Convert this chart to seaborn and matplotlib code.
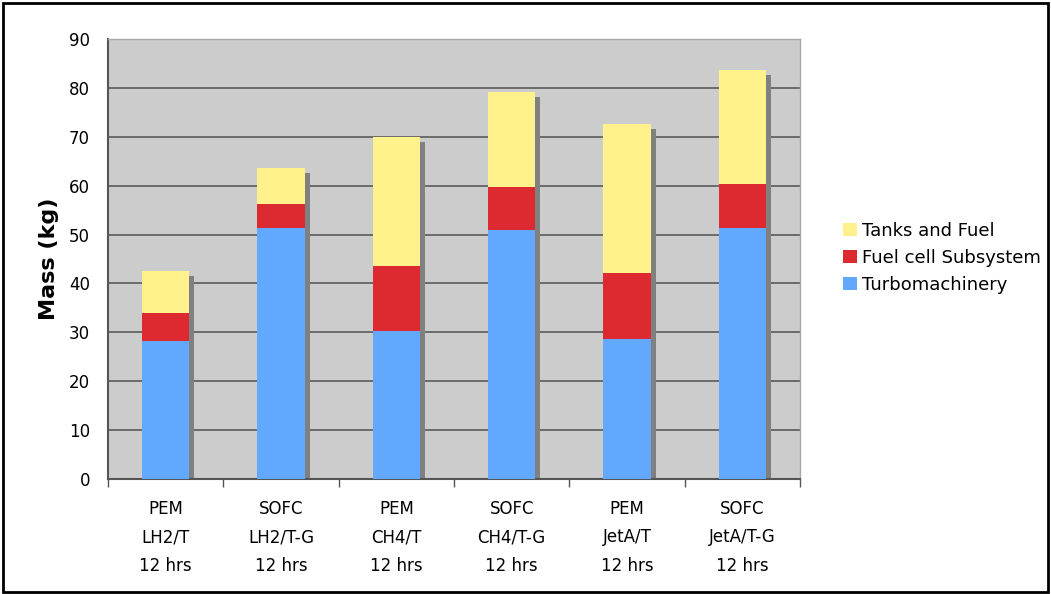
import pandas as pd
import matplotlib.pyplot as plt
import matplotlib.patches as mpatches
import matplotlib.patheffects as pe
import seaborn as sns
import numpy as np

# chart values (kg)
configs = ["PEM\nLH2/T\n12 hrs", "SOFC\nLH2/T-G\n12 hrs", "PEM\nCH4/T\n12 hrs",
           "SOFC\nCH4/T-G\n12 hrs", "PEM\nJetA/T\n12 hrs", "SOFC\nJetA/T-G\n12 hrs"]
turbomachinery = [28.2, 51.3, 30.3, 50.9, 28.6, 51.3]
fuel_cell = [5.8, 4.9, 13.3, 8.8, 13.5, 9.0]
tanks_fuel = [8.5, 7.4, 26.3, 19.4, 30.5, 23.3]

series_names = ["Tanks and Fuel", "Fuel cell Subsystem", "Turbomachinery"]
colors = {"Tanks and Fuel": "#FFF28C", "Fuel cell Subsystem": "#DC2A30",
          "Turbomachinery": "#62A8FF"}

df = pd.DataFrame({"config": configs, "turbo": turbomachinery,
                   "fc": fuel_cell, "tanks": tanks_fuel})
df["lvl1"] = df["turbo"]
df["lvl2"] = df["turbo"] + df["fc"]
df["lvl3"] = df["lvl2"] + df["tanks"]

sns.set_style("white")
plt.rcParams["font.family"] = ["DejaVu Sans"]
plt.rcParams["text.color"] = "black"
plt.rcParams["axes.labelcolor"] = "black"
plt.rcParams["xtick.labelcolor"] = "black"
plt.rcParams["ytick.labelcolor"] = "black"

fig = plt.figure(figsize=(10.51, 5.94), dpi=100)
ax = fig.add_axes([108 / 1051, 115 / 594, 692 / 1051, 440 / 594])
ax.set_facecolor("#CCCCCC")

width = 0.41
# drop shadow behind the full stack
sns.barplot(data=df, x="config", y="lvl3", color="#808080", width=width,
            ax=ax, saturation=1, zorder=2)
for p in ax.patches:
    p.set_facecolor("none")
    p.set_edgecolor("none")
    p.set_path_effects([pe.SimplePatchShadow(offset=(3.6, -3.2),
                                             shadow_rgbFace="#808080", alpha=1.0)])

for col, name in [("lvl3", "Tanks and Fuel"), ("lvl2", "Fuel cell Subsystem"),
                  ("lvl1", "Turbomachinery")]:
    sns.barplot(data=df, x="config", y=col, color=colors[name], width=width,
                ax=ax, saturation=1, zorder=3, linewidth=0)

ax.set_ylim(0, 90)
ax.set_xlim(-0.5, len(configs) - 0.5)
ax.set_yticks(np.arange(0, 91, 10))
ax.yaxis.grid(True, color="#5a5a5a", linewidth=1.2, zorder=1)
ax.set_axisbelow(True)

ax.set_xticks(np.arange(len(configs)))
ax.set_xticklabels(configs, fontsize=12, linespacing=1.75)
ax.set_xticks(np.arange(-0.5, len(configs), 1), minor=True)
ax.tick_params(axis="x", which="major", length=0, pad=15)
ax.tick_params(axis="x", which="minor", length=6, width=1, color="#555555", direction="out")
ax.tick_params(axis="y", length=6, width=1, color="#555555", direction="out",
               labelsize=12, pad=7)
ax.tick_params(axis="x", which="both", bottom=True)

ax.set_xlabel("")
ax.set_ylabel("Mass (kg)", fontsize=16, fontweight="bold", labelpad=7)

for side in ["left", "bottom"]:
    ax.spines[side].set_color("#555555")
    ax.spines[side].set_linewidth(1.5)
for side in ["top", "right"]:
    ax.spines[side].set_color("#aaaaaa")
    ax.spines[side].set_linewidth(1)

handles = [mpatches.Patch(facecolor=colors[n], edgecolor="none", label=n)
           for n in series_names]
fig.legend(handles=handles, loc="center left", bbox_to_anchor=(827 / 1051, 1 - 258 / 594),
           frameon=False, fontsize=13, handlelength=0.75, handleheight=0.75,
           handletextpad=0.3, labelspacing=0.5)

# outer chart border
fig.add_artist(mpatches.Rectangle((3 / 1051, 2 / 594), 1045 / 1051, 589 / 594,
                                  transform=fig.transFigure, fill=False,
                                  edgecolor="black", linewidth=2))

fig.savefig("out.png", dpi=100)
